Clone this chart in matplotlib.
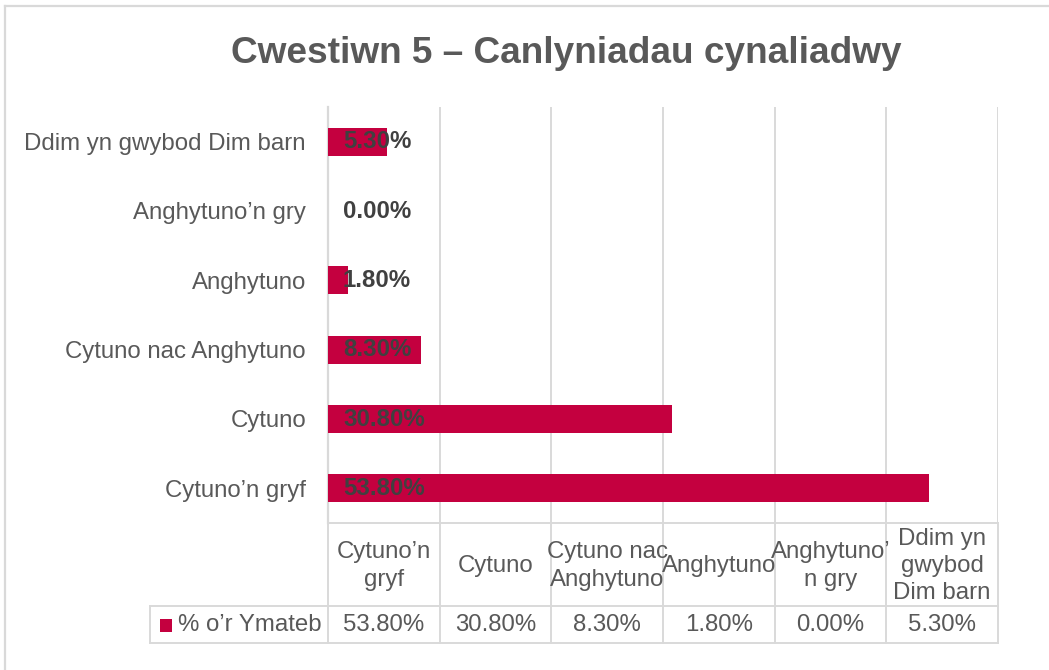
import matplotlib
matplotlib.use("Agg")
import matplotlib.pyplot as plt
from matplotlib.transforms import blended_transform_factory
from matplotlib.lines import Line2D
from matplotlib.patches import Rectangle

# ---- data ----
categories = ["Cytuno’n gryf", "Cytuno", "Cytuno nac Anghytuno", "Anghytuno",
              "Anghytuno’n gry", "Ddim yn gwybod Dim barn"]
table_headers = ["Cytuno’n\ngryf", "Cytuno", "Cytuno nac\nAnghytuno", "Anghytuno",
                 "Anghytuno’\nn gry", "Ddim yn\ngwybod\nDim barn"]
values = [53.8, 30.8, 8.3, 1.8, 0.0, 5.3]
value_labels = ["53.80%", "30.80%", "8.30%", "1.80%", "0.00%", "5.30%"]
series_name = "% o’r Ymateb"
title = "Cwestiwn 5 – Canlyniadau cynaliadwy"
x_ticks = [0, 10, 20, 30, 40, 50, 60]

BAR = "#C4003F"
GRID = "#D9D9D9"
TXT = "#595959"
LBL = "#404040"
FONT = "Liberation Sans"

W, H = 1049, 670
fig = plt.figure(figsize=(W / 100, H / 100), dpi=100)
fig.patch.set_facecolor("white")

def fx(px):
    return px / W

def fy(py):
    return 1 - py / H

px2pt = 72 / 100
fs = 24 * px2pt

ax = fig.add_axes([fx(328), fy(523), fx(998) - fx(328), fy(107) - fy(523)])
ypos = list(range(len(categories)))
ax.barh(ypos, values, height=0.4, color=BAR, linewidth=0, zorder=3)
ax.set_xlim(0, 60)
ax.set_ylim(-0.5, len(categories) - 0.5)
ax.set_xticks(x_ticks)
ax.set_xticklabels([])
ax.tick_params(axis="x", length=0)
ax.grid(axis="x", color=GRID, linewidth=1.4, zorder=0)
ax.set_yticks(ypos)
ax.set_yticklabels(categories, fontsize=fs, color=TXT, family=FONT)
ax.tick_params(axis="y", length=0, pad=22 * px2pt)
for s in ["top", "right"]:
    ax.spines[s].set_visible(False)
ax.spines["left"].set_color(GRID)
ax.spines["left"].set_linewidth(1.6)
ax.spines["bottom"].set_color(GRID)
ax.spines["bottom"].set_linewidth(1.4)

for yv, lab in zip(ypos, value_labels):
    ax.annotate(lab, (0, yv), xytext=(15 * px2pt, 0), textcoords="offset points",
                ha="left", va="center", fontsize=fs, fontweight="bold",
                color=LBL, family=FONT, zorder=4)

# title
fig.text(fx(566), fy(63), title, ha="center", va="baseline", fontsize=37 * px2pt,
         fontweight="bold", color=TXT, family=FONT)

# ---- data table ----
tr = blended_transform_factory(ax.transData, fig.transFigure)
y_top, y_mid, y_bot = fy(523), fy(606), fy(643)
lw = 1.4
for xv in x_ticks:
    fig.add_artist(Line2D([xv, xv], [y_top, y_bot], transform=tr, color=GRID, lw=lw))
fig.add_artist(Line2D([fx(150), fx(998)], [y_mid, y_mid], transform=fig.transFigure, color=GRID, lw=lw))
fig.add_artist(Line2D([fx(150), fx(998)], [y_bot, y_bot], transform=fig.transFigure, color=GRID, lw=lw))
fig.add_artist(Line2D([fx(150), fx(150)], [y_mid, y_bot], transform=fig.transFigure, color=GRID, lw=lw))

for i, (hdr, lab) in enumerate(zip(table_headers, value_labels)):
    xc = (x_ticks[i] + x_ticks[i + 1]) / 2
    fig.text(xc, fy(566), hdr, transform=tr, ha="center", va="center", fontsize=fs,
             color=TXT, family=FONT, linespacing=1.32)
    fig.text(xc, fy(625), lab, transform=tr, ha="center", va="center", fontsize=fs,
             color=TXT, family=FONT)

fig.add_artist(Rectangle((fx(160), fy(632)), fx(12), 13 / H, transform=fig.transFigure,
                         facecolor=BAR, edgecolor="none"))
fig.text(fx(178), fy(625), series_name, ha="left", va="center", fontsize=fs,
         color=TXT, family=FONT)

# outer chart border (top and left visible)
fig.add_artist(Line2D([fx(5), 1], [fy(6), fy(6)], transform=fig.transFigure, color=GRID, lw=1.6))
fig.add_artist(Line2D([fx(5), fx(5)], [fy(6), 0], transform=fig.transFigure, color=GRID, lw=1.6))

fig.savefig("out.png", dpi=100, facecolor="white")
